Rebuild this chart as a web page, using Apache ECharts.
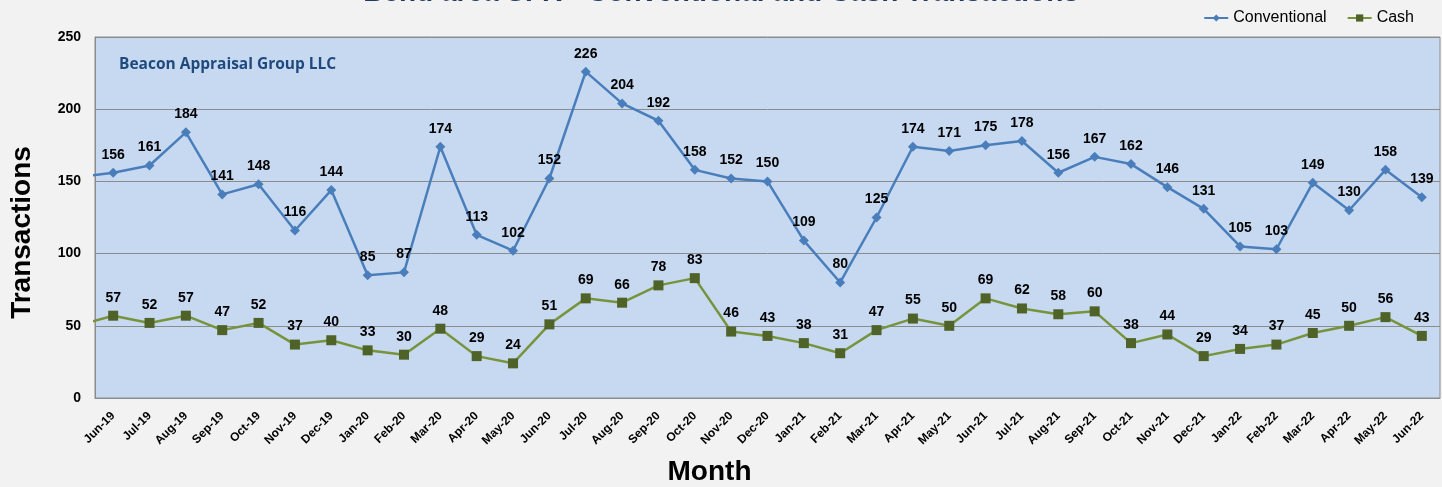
<!DOCTYPE html>
<html>
<head>
<meta charset="utf-8">
<script src="https://cdn.jsdelivr.net/npm/echarts@6/dist/echarts.min.js"></script>
<style>
  html, body { margin: 0; padding: 0; background: #f2f2f2; }
  #main { width: 1442px; height: 487px; }
</style>
</head>
<body>
<div id="main"></div>
<script>
// months on the x axis
var months = ['Jun-19','Jul-19','Aug-19','Sep-19','Oct-19','Nov-19','Dec-19','Jan-20','Feb-20','Mar-20','Apr-20','May-20',
  'Jun-20','Jul-20','Aug-20','Sep-20','Oct-20','Nov-20','Dec-20','Jan-21','Feb-21','Mar-21','Apr-21','May-21',
  'Jun-21','Jul-21','Aug-21','Sep-21','Oct-21','Nov-21','Dec-21','Jan-22','Feb-22','Mar-22','Apr-22','May-22','Jun-22'];
var conventional = [156,161,184,141,148,116,144,85,87,174,113,102,152,226,204,192,158,152,150,109,80,125,174,171,175,178,156,167,162,146,131,105,103,149,130,158,139];
var cash = [57,52,57,47,52,37,40,33,30,48,29,24,51,69,66,78,83,46,43,38,31,47,55,50,69,62,58,60,38,44,29,34,37,45,50,56,43];
// month before the window (line enters from the left edge, clipped)
var prevConventional = 153;
var prevCash = 50;
var yTicks = [0, 50, 100, 150, 200, 250];

function buildData(prev, values) {
  var out = [{ value: [-1, prev], label: { show: false }, symbol: 'none' }];
  values.forEach(function (v, i) { out.push([i, v]); });
  return out;
}

var myChart = echarts.init(document.getElementById('main'));
var labelStyle = { show: true, position: 'top', distance: 6, color: '#000', fontWeight: 'bold', fontSize: 14, fontFamily: 'Liberation Sans' };

var option = {
  backgroundColor: '#f2f2f2',
  textStyle: { fontFamily: 'Liberation Sans' },
  title: {
    text: 'Bend area SFR - Conventional and Cash Transactions',
    left: 'center',
    top: -26,
    textStyle: { fontSize: 28, fontWeight: 'bold', color: '#1F3864', fontFamily: 'Liberation Sans' }
  },
  legend: {
    right: 23,
    top: 5,
    itemGap: 20,
    itemWidth: 24,
    itemHeight: 9,
    textStyle: { fontSize: 16, color: '#000', fontFamily: 'Liberation Sans' },
    data: ['Conventional', 'Cash']
  },
  grid: {
    left: 95, right: 2, top: 37, bottom: 89,
    outerBoundsMode: 'none',
    show: true, backgroundColor: '#C6D9F1', borderColor: '#8c8c8c', borderWidth: 1
  },
  graphic: [{
    type: 'text', left: 119, top: 57,
    style: { text: 'Beacon Appraisal Group LLC', fill: '#1F497D', font: 'bold 15.5px "Open Sans"' }
  }],
  xAxis: {
    type: 'value',
    min: -0.5,
    max: 36.5,
    name: 'Month',
    nameLocation: 'middle',
    nameGap: 60,
    nameTextStyle: { fontSize: 28, fontWeight: 'bold', color: '#000', padding: [0, 116, 0, 0] },
    axisLine: { onZero: false, lineStyle: { color: '#8c8c8c' } },
    axisTick: { show: false },
    splitLine: { show: false },
    axisLabel: {
      customValues: months.map(function (m, i) { return i; }),
      rotate: 45,
      margin: 16,
      fontSize: 12,
      fontWeight: 'bold',
      color: '#000',
      formatter: function (v) { return months[Math.round(v)] || ''; }
    }
  },
  yAxis: {
    type: 'value',
    min: 0, max: 250, interval: 50,
    name: 'Transactions',
    nameLocation: 'middle',
    nameGap: 59,
    nameTextStyle: { fontSize: 28, fontWeight: 'bold', color: '#000', padding: [0, 30, 0, 0] },
    axisLine: { show: true, onZero: false, lineStyle: { color: '#8c8c8c' } },
    axisTick: { show: false },
    splitLine: { lineStyle: { color: '#8c8c8c', width: 1 } },
    axisLabel: {
      margin: 14, fontSize: 14, fontWeight: 'bold', color: '#000',
      formatter: function (v) { return yTicks.indexOf(v) >= 0 ? String(v) : ''; }
    }
  },
  series: [
    {
      name: 'Conventional',
      type: 'line',
      clip: true,
      data: buildData(prevConventional, conventional),
      symbol: 'diamond',
      symbolSize: 10,
      lineStyle: { color: '#4A7EBB', width: 2.5 },
      itemStyle: { color: '#4A7EBB' },
      label: labelStyle,
      z: 3
    },
    {
      name: 'Cash',
      type: 'line',
      clip: true,
      data: buildData(prevCash, cash),
      symbol: 'rect',
      symbolSize: 10,
      lineStyle: { color: '#77933C', width: 2.5 },
      itemStyle: { color: '#4F6228' },
      label: labelStyle,
      z: 3
    }
  ]
};
myChart.setOption(option);
</script>
</body>
</html>
